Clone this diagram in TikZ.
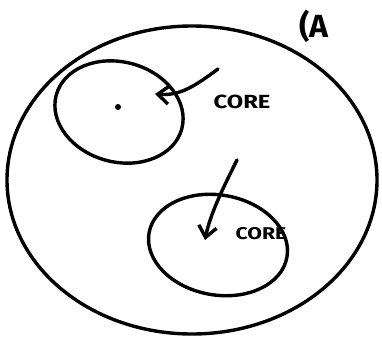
\documentclass[tikz,border=0pt]{standalone}
\usepackage{fontspec}
\setmainfont{Fira Sans}
\usetikzlibrary{arrows.meta}
\begin{document}
\begin{tikzpicture}[x=1pt,y=-1pt,
  stroke/.style={line width=3.4pt,line cap=round,line join=round},
  arr/.style={stroke,-{Straight Barb[length=11pt,width=18pt,line width=3.4pt]}},
  lbl/.style={font=\bfseries\fontsize{19}{19}\selectfont,inner sep=0pt,xscale=1.25}]
\useasboundingbox (0,0) rectangle (382,340);
% outer region
\draw[stroke] (192,180) ellipse [x radius=185,y radius=154];
\node[lbl,font=\bfseries\fontsize{32}{32}\selectfont,xscale=0.8] (A) at (314,26) {(A};
% first core
\draw[stroke,rotate around={-15:(119,112)}] (119,112) ellipse [x radius=65,y radius=50];
\fill (118,107) circle (3pt);
\coordinate (t1) at (218,69);
\coordinate (h1) at (155,94);
\draw[arr] (t1) .. controls (195,86) and (180,96) .. (h1);
\node[lbl] (c1) at (242,102) {CORE};
% second core
\draw[stroke,rotate around={-10:(218,245)}] (218,245) ellipse [x radius=70,y radius=50];
\coordinate (t2) at (237,160);
\coordinate (h2) at (205,240);
\draw[arr] (t2) .. controls (222,190) and (210,215) .. (h2);
\node[lbl,font=\bfseries\fontsize{17}{17}\selectfont] (c2) at (261,234) {CORE};
\end{tikzpicture}
\end{document}
